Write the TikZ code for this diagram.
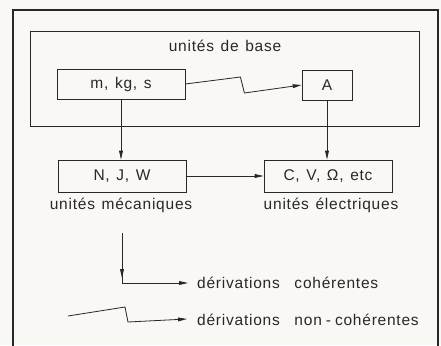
\documentclass[tikz,border=0pt]{standalone}
\usepackage{fontspec}
\setmainfont[LetterSpace=5,WordSpace=1.3]{Liberation Sans}
\usetikzlibrary{arrows.meta}
\definecolor{bgcol}{RGB}{249,248,244}
\definecolor{ink}{RGB}{40,40,40}
\tikzset{
  ink/.style={draw=ink, line width=0.8pt},
  box/.style={ink, rectangle, inner sep=0pt, text=ink, font=\fontsize{15.5}{18}\selectfont},
  lbl/.style={text=ink, inner sep=0pt, font=\fontsize{15.5}{18}\selectfont},
  arr/.style={ink, -{Triangle[length=9pt,width=3.8pt]}},
}
\begin{document}
\begin{tikzpicture}[x=1pt,y=-1pt]
\fill[bgcol] (0,0) rectangle (441,345);
\useasboundingbox (0,0) rectangle (441,345);
% outer frame (bottom edge lies outside the picture)
\draw[ink, line width=1.1pt] (13,346) -- (13,10) -- (438,10) -- (438,346);
% base box
\node[box, minimum width=389pt, minimum height=95pt] (base) at (224.5,78.5) {};
\node[lbl, anchor=base] (baselbl) at (225,52) {unités de base};
\node[box, minimum width=128pt, minimum height=30pt] (mks) at (121,84) {m, kg, s};
\node[box, minimum width=50pt, minimum height=30pt] (A) at (327,85) {A};
\node[box, minimum width=128pt, minimum height=32pt] (NJW) at (122,176) {N, J, W};
\node[box, minimum width=128pt, minimum height=32pt] (CV) at (328,176) {C, V, Ω, etc};
\node[lbl, anchor=base] (mec) at (121,209) {unités mécaniques};
\node[lbl, anchor=base] (ele) at (331,209) {unités électriques};
% connectors
\draw[arr] (mks.east) -- ++(55,-7) -- ++(4,16) -- (A.west);
\draw[arr] (mks.south) -- (mks.south |- NJW.north);
\draw[arr] (A.south) -- (A.south |- CV.north);
\draw[arr] (NJW.east) -- (CV.west);
% legend
\node[lbl, anchor=base west] (coh) at (197,288) {dérivations\hspace{8pt} cohérentes};
\node[lbl, anchor=base west] (ncoh) at (197,325) {dérivations\hspace{8pt} non\hspace{4pt}-\hspace{4pt}cohérentes};
\coordinate (c1) at (122,233);
\coordinate (c2) at (122,283);
\coordinate (c3) at (188,283);
\draw[arr] (c1) -- (122,278);
\draw[arr] (c1) -- (c2) -- (c3);
\coordinate (z1) at (68,316);
\coordinate (z2) at (125,307);
\coordinate (z3) at (128,322);
\coordinate (z4) at (187,319);
\draw[arr] (z1) -- (z2) -- (z3) -- (z4);
\end{tikzpicture}
\end{document}
